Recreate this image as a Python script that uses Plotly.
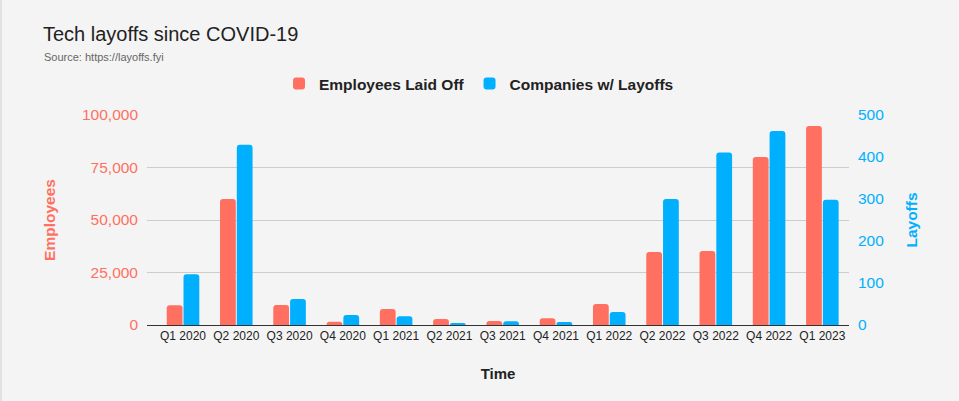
import plotly.graph_objects as go

quarters = ["Q1 2020", "Q2 2020", "Q3 2020", "Q4 2020", "Q1 2021", "Q2 2021", "Q3 2021",
            "Q4 2021", "Q1 2022", "Q2 2022", "Q3 2022", "Q4 2022", "Q1 2023"]
employees_laid_off = [9400, 60000, 9500, 1500, 7600, 2900, 1900, 3200, 10000, 34800, 35200, 80000, 94800]
companies_with_layoffs = [121, 429, 62, 24, 21, 5, 9, 7, 31, 300, 411, 462, 298]

RED = "#FF7061"
BLUE = "#00B0FF"
BG = "#F4F4F4"
W, H = 959, 401
L, R, T, B = 147, 849, 115, 325

def px(x):
    return (x - L) / (R - L)

def py(y):
    return (B - y) / (B - T)

fig = go.Figure()
fig.add_trace(go.Bar(
    x=quarters, y=employees_laid_off, name="Employees Laid Off",
    marker=dict(color=RED, line=dict(width=0)), offsetgroup="1", yaxis="y",
    hovertemplate="%{x}<br>%{y:,}<extra>Employees Laid Off</extra>"))
fig.add_trace(go.Bar(
    x=quarters, y=companies_with_layoffs, name="Companies w/ Layoffs",
    marker=dict(color=BLUE, line=dict(width=0)), offsetgroup="2", yaxis="y2",
    hovertemplate="%{x}<br>%{y}<extra>Companies w/ Layoffs</extra>"))

font_family = "Liberation Sans, Arial, sans-serif"

fig.update_layout(
    width=W, height=H,
    margin=dict(l=L, r=W - R, t=T, b=H - B, pad=0),
    paper_bgcolor=BG, plot_bgcolor=BG,
    font=dict(family=font_family, color="#222"),
    barmode="group", bargap=0.37, bargroupgap=0.06, barcornerradius=3,
    showlegend=True,
    legend=dict(orientation="h", x=px(479), xanchor="center", y=py(84), yanchor="middle",
                font=dict(size=15.5, color="#222", family=font_family, weight="bold"),
                bgcolor="rgba(0,0,0,0)", traceorder="normal"),
    xaxis=dict(
        type="category", range=[-0.676, 12.5], showgrid=False,
        showline=True, linecolor="#333", linewidth=1,
        ticks="", tickfont=dict(size=12, color="#222"),
        title=dict(text="<b>Time</b>", font=dict(size=15, color="#222"), standoff=26),
        fixedrange=True,
    ),
    yaxis=dict(
        range=[0, 100000], tickvals=[0, 25000, 50000, 75000, 100000],
        tickformat=",", showgrid=True, gridcolor="#CCCCCC", gridwidth=1,
        zeroline=False, showline=False, ticks="",
        tickfont=dict(size=15.5, color=RED),
        title=dict(text="<b>Employees</b>", font=dict(size=15.5, color=RED), standoff=22),
        ticklabelstandoff=8,
    ),
    yaxis2=dict(
        overlaying="y", side="right", range=[0, 500],
        tickvals=[0, 100, 200, 300, 400, 500],
        showgrid=False, zeroline=False, showline=False, ticks="",
        tickfont=dict(size=15.5, color=BLUE),
        title=dict(text="<b>Layoffs</b>", font=dict(size=15.5, color=BLUE), standoff=22),
        ticklabelstandoff=8,
    ),
    annotations=[
        dict(text="Tech layoffs since COVID-19", xref="paper", yref="paper",
             x=px(41), y=py(34), xanchor="left", yanchor="middle", showarrow=False,
             font=dict(size=20, color="#222")),
        dict(text="Source: https://layoffs.fyi", xref="paper", yref="paper",
             x=px(42), y=py(57), xanchor="left", yanchor="middle", showarrow=False,
             font=dict(size=11, color="#666")),
    ],
    shapes=[
        dict(type="line", xref="paper", yref="paper", x0=px(1), x1=px(1), y0=py(0), y1=py(H),
             line=dict(color="#D0D0D0", width=1)),
    ],
)

fig.write_html(
    "out.html",
    config={"displayModeBar": False},
    post_script="document.body.style.margin='0';document.body.style.background='%s';" % BG,
)
